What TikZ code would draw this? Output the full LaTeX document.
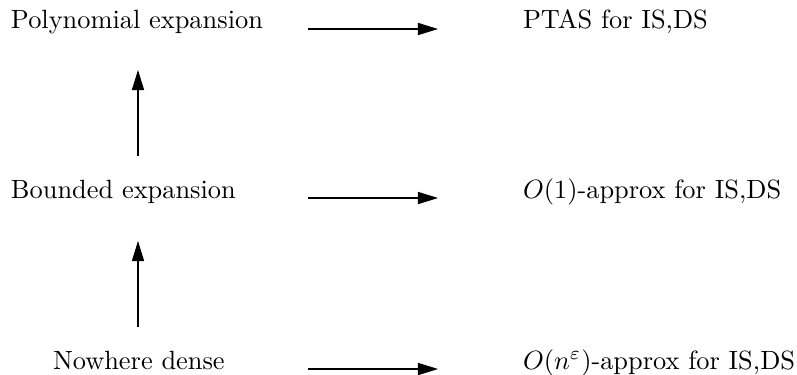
\documentclass[tikz,border=0pt]{standalone}
\usetikzlibrary{arrows.meta}
\begin{document}
\begin{tikzpicture}[x=0.379pt,y=-0.379pt,
  label/.style={anchor=base west,inner sep=0pt,outer sep=0pt},
  implies/.style={-{Triangle[length=7.6pt,width=4.6pt]},line width=0.4pt}]
  \useasboundingbox (0,0) rectangle (797,374);
  % graph classes
  \node[label] (poly) at (11,28) {Polynomial expansion};
  \node[label] (bnd)  at (11,198) {Bounded expansion};
  \node[label] (nd)   at (53,369) {Nowhere dense};
  % approximation results
  \node[label] (ptas) at (523,28) {PTAS for IS,DS};
  \node[label] (oone) at (523,198) {$O(1)$-approx for IS,DS};
  \node[label] (oeps) at (523,369) {$O(n^{\varepsilon})$-approx for IS,DS};
  % arrow end points
  \coordinate (h1s) at (308,29);  \coordinate (h1e) at (438,29);
  \coordinate (h2s) at (308,198); \coordinate (h2e) at (438,198);
  \coordinate (h3s) at (308,369); \coordinate (h3e) at (438,369);
  \coordinate (v1s) at (138,156); \coordinate (v1e) at (138,70);
  \coordinate (v2s) at (138,327); \coordinate (v2e) at (138,241);
  \draw[implies] (h1s) -- (h1e);
  \draw[implies] (h2s) -- (h2e);
  \draw[implies] (h3s) -- (h3e);
  \draw[implies] (v1s) -- (v1e);
  \draw[implies] (v2s) -- (v2e);
\end{tikzpicture}
\end{document}
